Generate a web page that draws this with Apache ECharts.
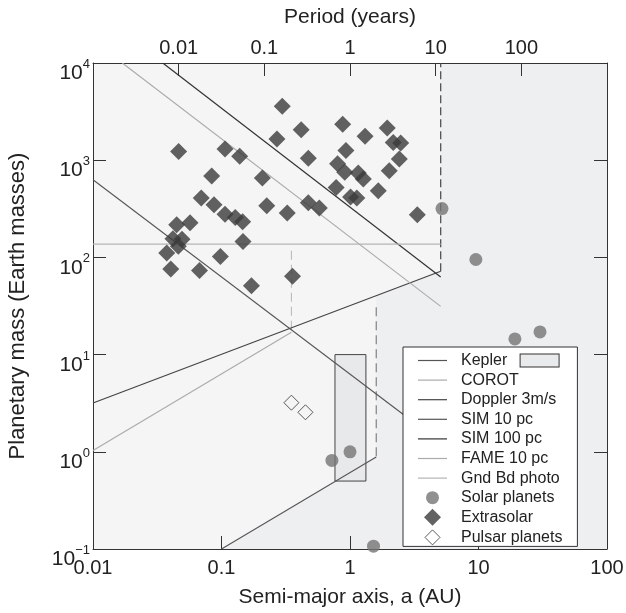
<!DOCTYPE html>
<html><head><meta charset="utf-8">
<script src="https://cdn.jsdelivr.net/npm/echarts@6/dist/echarts.min.js"></script>
<style>html,body{margin:0;padding:0;background:#fff}#c{width:626px;height:613px}</style>
</head><body><div id="c"></div>
<script>
// ---- tick labels ----
const xTickLabels = {'-2':'0.01','-1':'0.1','0':'1','1':'10','2':'100'};
const periodTickLabels = {'-2':'0.01','-1':'0.1','0':'1','1':'10','2':'100'};
const yTickExponents = {'-1':'\u22121','0':'0','1':'1','2':'2','3':'3','4':'4'};

// ---- scatter data: semi-major axis (AU) and mass (Earth masses) ----
const extrasolarA = [0.297,0.417,0.270,0.877,1.31,1.95,2.17,2.48,2.42,2.02,0.93,0.80,0.91,1.16,1.27,0.78,1.66,1.01,1.13,3.34,0.474,0.208,0.474,0.577,0.325,0.225,0.146,0.128,0.1065,0.0874,0.0696,0.0839,0.0464,0.1065,0.1385,0.0448,0.0569,0.0419,0.0493,0.0461,0.0375,0.147,0.098,0.0403,0.0674,0.357,0.171];
const extrasolarM = [3580,2060,1650,2340,1760,2150,1520,1500,1030,780,1260,920,750,740,640,525,485,418,408,275,1045,655,366,322,286,340,232,257,278,348,409,688,1230,1300,1095,217,227,156,154,130,111,146,102,76,73.5,64,51];
const solarA = [0.723,1.0,1.524,5.2,9.54,19.2,30.1];
const solarM = [0.815,1.0,0.107,318,95.2,14.5,17.1];
const pulsarA = [0.35,0.45];
const pulsarM = [3.2,2.55];

// ---- detection limit lines ----
const keplerLineA = [0.1,1.6],    keplerLineM = [0.1,0.885];
const keplerLimitA = [1.6,1.6],   keplerLimitM = [0.9,34];
const keplerBoxA = [0.764,1.33],  keplerBoxM = [0.5,10];
const corotLineA = [0.01,0.35],   corotLineM = [1.03,17];
const corotLimitA = [0.35,0.35],  corotLimitM = [18,130];
const dopplerLineA = [0.01,5.08], dopplerLineM = [3.18,72];
const dopplerLimitA = [5.08,5.08],dopplerLimitM = [72,10000];
const sim10A = [0.01,5.08],       sim10M = [630,1.24];
const sim100A = [0.0349,5.08],    sim100M = [10000,63];
const fameA = [0.0169,5.08],      fameM = [10000,31.3];
const gndA = [0.01,5.08],         gndM = [137,137];
// region reachable (lighter shading)
const reachA = [0.01,5.08,5.08,1.6,1.6,0.1,0.01];
const reachM = [10000,10000,72,40.2,0.885,0.1,0.1];
const plotA = [0.01,100,100,0.01];
const plotM = [0.1,0.1,10000,10000];

const pts = (A,M) => A.map((a,i)=>[a,M[i]]);
const FONT = 'Liberation Sans, Arial, Helvetica, sans-serif';
const TXT = '#222';

function lineSeries(name, A, M, color, width, dash) {
  return {type:'line', name, data: pts(A,M), symbol:'none', silent:true, animation:false,
    clip:true, z:2,
    lineStyle:{color, width, type: dash || 'solid'}, itemStyle:{color}};
}

const lineIcon = 'path://M0,0L0,0M29,17L29,17M0,7.9L29,7.9L29,9.1L0,9.1Z';
const circleIcon = 'path://M0,0L0,0M17,17L17,17M2,8.5A6.5,6.5,0,1,1,15,8.5A6.5,6.5,0,1,1,2,8.5Z';
const diamondIcon = 'path://M0,0L0,0M17,17L17,17M8.5,0L17,8.5L8.5,17L0,8.5Z';
const pulsarIcon = 'path://M0,0L0,0M17,17L17,17M8.5,1L16,8.5L8.5,16L1,8.5Z';

const chart = echarts.init(document.getElementById('c'), null, {renderer:'canvas'});
chart.setOption({
  animation:false,
  backgroundColor:'#fff',
  textStyle:{fontFamily:FONT},
  grid:{left:93, right:19, top:63, bottom:64, outerBoundsMode:'none', containLabel:false},
  xAxis:[
    {type:'log', logBase:10, min:0.01, max:100, position:'bottom',
     name:'Semi-major axis, a (AU)', nameLocation:'middle', nameGap:38, nameMoveOverlap:false,
     nameTextStyle:{fontSize:21, color:TXT, fontFamily:FONT},
     axisLine:{show:true, lineStyle:{color:'#333', width:1}},
     axisTick:{show:true, inside:true, length:13, lineStyle:{color:'#333'}},
     minorTick:{show:false}, splitLine:{show:false},
     axisLabel:{fontSize:20, color:TXT, margin:9, fontFamily:FONT, alignMinLabel:'center', alignMaxLabel:'center',
       formatter:v=>xTickLabels[String(Math.round(Math.log10(v)))]||''}},
    {type:'log', logBase:10, min:0.001, max:1000, position:'top',
     name:'Period (years)', nameLocation:'middle', nameGap:35, nameMoveOverlap:false,
     nameTextStyle:{fontSize:21, color:TXT, fontFamily:FONT},
     axisLine:{show:true, lineStyle:{color:'#333', width:1}},
     axisTick:{show:true, inside:true, length:13, lineStyle:{color:'#333'}},
     splitLine:{show:false},
     axisLabel:{fontSize:20, color:TXT, margin:5, fontFamily:FONT, alignMinLabel:'center', alignMaxLabel:'center',
       formatter:v=>periodTickLabels[String(Math.round(Math.log10(v)))]||''}}
  ],
  yAxis:[
    {type:'log', logBase:10, min:0.1, max:10000, position:'left',
     name:'Planetary mass (Earth masses)', nameLocation:'middle', nameGap:64, nameMoveOverlap:false,
     nameTextStyle:{fontSize:22, color:TXT, fontFamily:FONT},
     axisLine:{show:true, lineStyle:{color:'#333', width:1}},
     axisTick:{show:true, inside:true, length:13, lineStyle:{color:'#333'}},
     splitLine:{show:false},
     axisLabel:{margin:3, fontSize:21, fontFamily:FONT, color:TXT, padding:[16,0,0,0],
       formatter:v=>{const e=String(Math.round(Math.log10(v))); return '{b|10}{s|'+yTickExponents[e]+'}';},
       rich:{b:{fontSize:21, lineHeight:26, verticalAlign:'bottom', color:TXT, fontFamily:FONT},
             s:{fontSize:13, lineHeight:13, verticalAlign:'top', color:TXT, fontFamily:FONT}}}},
    {type:'log', logBase:10, min:0.1, max:10000, position:'right',
     axisLine:{show:true, lineStyle:{color:'#333', width:1}},
     axisTick:{show:true, inside:true, length:13, lineStyle:{color:'#333'}},
     splitLine:{show:false}, axisLabel:{show:false}}
  ],
  legend:{
    orient:'vertical', left:403, top:347, selectedMode:false,
    backgroundColor:'#fff', borderColor:'#333', borderWidth:1,
    padding:[5,15,0,15], itemWidth:29, itemHeight:17, itemGap:2.6,
    textStyle:{fontSize:16, color:TXT, fontFamily:FONT, padding:[0,0,0,9],
      rich:{box:{width:38, height:12, borderColor:'#333', borderWidth:1, backgroundColor:'#e9eaec'}}},
    formatter:n=> n==='Kepler' ? 'Kepler   {box| }' : n,
    data:[
      {name:'Kepler', icon:lineIcon},{name:'COROT', icon:lineIcon},{name:'Doppler 3m/s', icon:lineIcon},
      {name:'SIM 10 pc', icon:lineIcon},{name:'SIM 100 pc', icon:lineIcon},
      {name:'FAME 10 pc', icon:lineIcon},{name:'Gnd Bd photo', icon:lineIcon},
      {name:'Solar planets', icon:circleIcon},
      {name:'Extrasolar', icon:diamondIcon},
      {name:'Pulsar planets', icon:pulsarIcon, itemStyle:{color:'#fff', borderColor:'#333', borderWidth:1}}
    ]
  },
  series:[
    {type:'custom', name:'regions', silent:true, z:-5, data:[[1,1]],
     renderItem:(p,api)=>({type:'group', children:[
       {type:'polygon', shape:{points: pts(plotA,plotM).map(c=>api.coord(c))}, style:{fill:'#eeeff1'}},
       {type:'polygon', shape:{points: pts(reachA,reachM).map(c=>api.coord(c))}, style:{fill:'#f5f5f5'}}
     ]})},
    {type:'custom', name:'Kepler box', silent:true, z:1,
     data:[[keplerBoxA[0], keplerBoxM[1], keplerBoxA[1], keplerBoxM[0]]],
     renderItem:(p,api)=>{
       const p1 = api.coord([api.value(0), api.value(1)]);
       const p2 = api.coord([api.value(2), api.value(3)]);
       return {type:'rect', shape:{x:p1[0], y:p1[1], width:p2[0]-p1[0], height:p2[1]-p1[1]},
         style:{fill:'#e8e9eb', stroke:'#444', lineWidth:1}};
     }},
    lineSeries('Kepler', keplerLineA, keplerLineM, '#555', 1.1),
    lineSeries('Kepler limit', keplerLimitA, keplerLimitM, '#777', 1.1, [9,5]),
    lineSeries('COROT', corotLineA, corotLineM, '#aaa', 1.1),
    lineSeries('COROT limit', corotLimitA, corotLimitM, '#bbb', 1.1, [9,5]),
    lineSeries('Doppler 3m/s', dopplerLineA, dopplerLineM, '#444', 1.2),
    lineSeries('Doppler limit', dopplerLimitA, dopplerLimitM, '#444', 1.2, [8,4]),
    lineSeries('SIM 10 pc', sim10A, sim10M, '#555', 1.1),
    lineSeries('SIM 100 pc', sim100A, sim100M, '#333', 1.2),
    lineSeries('FAME 10 pc', fameA, fameM, '#aaa', 1.1),
    lineSeries('Gnd Bd photo', gndA, gndM, '#b4b4b4', 1.3),
    {type:'scatter', name:'Solar planets', data:pts(solarA,solarM), symbol:'circle', symbolSize:13,
     itemStyle:{color:'#747474'}, z:3, silent:true, clip:false},
    {type:'scatter', name:'Extrasolar', data:pts(extrasolarA,extrasolarM), symbol:'diamond', symbolSize:17,
     itemStyle:{color:'#3b3b3b'}, z:4, silent:true},
    {type:'scatter', name:'Pulsar planets', data:pts(pulsarA,pulsarM), symbol:'diamond', symbolSize:15,
     itemStyle:{color:'#f5f5f5', borderColor:'#333', borderWidth:1}, z:4, silent:true}
  ]
});
</script></body></html>
